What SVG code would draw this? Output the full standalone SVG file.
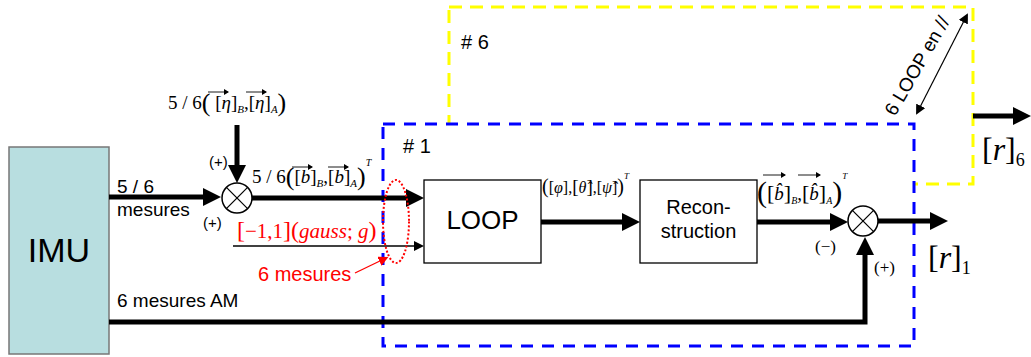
<svg xmlns="http://www.w3.org/2000/svg" width="1031" height="357" viewBox="0 0 1031 357">
<defs>
<style>
.s{font-family:"Liberation Sans",Arial,sans-serif;fill:#000}
.m{font-family:"Liberation Serif","Times New Roman",serif;fill:#000}
.i{font-style:italic}
.red{fill:#ff0000}
.thick{stroke:#000;stroke-width:5;fill:none}
.thin{stroke:#000;stroke-width:1.3;fill:none}
.sum circle{fill:#fff;stroke:#000;stroke-width:1.5}
.sum line{stroke:#000;stroke-width:1.2}
.ov{stroke:#000;stroke-width:0.9;fill:none}
</style>
<marker id="ah" markerUnits="userSpaceOnUse" markerWidth="20" markerHeight="18" refX="10" refY="9" orient="auto"><path d="M0,0 L18,9 L0,18 z" fill="#000"/></marker>
<marker id="ahs" markerUnits="userSpaceOnUse" markerWidth="12" markerHeight="10" refX="4" refY="5" orient="auto"><path d="M0,0 L10,5 L0,10 z" fill="#000"/></marker>
<marker id="ahr" markerUnits="userSpaceOnUse" markerWidth="12" markerHeight="10" refX="4" refY="5" orient="auto"><path d="M0,0 L10,5 L0,10 z" fill="#ff0000"/></marker>
<marker id="ahd" markerUnits="userSpaceOnUse" markerWidth="12" markerHeight="10" refX="8" refY="5" orient="auto-start-reverse"><path d="M0,0 L10,5 L0,10 z" fill="#000"/></marker>
<marker id="ov" markerUnits="userSpaceOnUse" markerWidth="6" markerHeight="6" refX="4" refY="3" orient="auto"><path d="M0,0 L5,3 L0,6 z" fill="#000"/></marker>
</defs>
<rect width="1031" height="357" fill="#fff"/>

<g id="loop6">
<rect x="449" y="7" width="524" height="177" fill="none" stroke="#ffff00" stroke-width="3" stroke-dasharray="13 8"/>
<text class="s" x="461" y="49" font-size="20"># 6</text>
</g>
<g id="loop1">
<rect x="383" y="124" width="531" height="222" fill="#fff" stroke="#0000ff" stroke-width="3" stroke-dasharray="12 9"/>
<text class="s" x="403" y="153" font-size="20"># 1</text>
</g>

<g id="imu">
<rect x="9" y="147" width="100" height="207" fill="#b8dee0" stroke="#777" stroke-width="1.5"/>
<text class="s" x="59" y="262" font-size="34" text-anchor="middle">IMU</text>
</g>

<g id="loop">
<rect x="424" y="180" width="117" height="83" fill="#fff" stroke="#000" stroke-width="1.3"/>
<text class="s" x="482.5" y="229" font-size="26" text-anchor="middle">LOOP</text>
</g>

<g id="recon">
<rect x="640" y="180" width="117" height="83" fill="#fff" stroke="#000" stroke-width="1.3"/>
<text class="s" x="698.5" y="214" font-size="20" text-anchor="middle">Recon-</text>
<text class="s" x="698.5" y="238" font-size="20" text-anchor="middle">struction</text>
</g>

<g id="sum1" class="sum">
<circle cx="237" cy="198" r="15"/>
<line x1="226.4" y1="187.4" x2="247.6" y2="208.6"/>
<line x1="226.4" y1="208.6" x2="247.6" y2="187.4"/>
</g>
<g id="sum2" class="sum">
<circle cx="863" cy="221" r="15"/>
<line x1="852.4" y1="210.4" x2="873.6" y2="231.6"/>
<line x1="852.4" y1="231.6" x2="873.6" y2="210.4"/>
</g>

<g id="connectors">
<line class="thick" x1="109" y1="197" x2="213" y2="197" marker-end="url(#ah)"/>
<line class="thick" x1="237" y1="125" x2="237" y2="175" marker-end="url(#ah)"/>
<line class="thick" x1="252" y1="198" x2="416" y2="198" marker-end="url(#ah)"/>
<line class="thin" x1="233" y1="246" x2="418" y2="246" marker-end="url(#ahs)"/>
<line class="thick" x1="541" y1="222" x2="632" y2="222" marker-end="url(#ah)"/>
<line class="thick" x1="757" y1="222" x2="840" y2="222" marker-end="url(#ah)"/>
<line class="thick" x1="878" y1="221" x2="940" y2="221" marker-end="url(#ah)"/>
<polyline class="thick" points="109,322 865,322 865,245" marker-end="url(#ah)"/>
<line class="thick" x1="973" y1="116" x2="1023" y2="116" marker-end="url(#ah)"/>
<line x1="355" y1="273" x2="383" y2="259.5" stroke="#ff0000" stroke-width="1.3" marker-end="url(#ahr)"/>
<line x1="917" y1="113" x2="967" y2="15" stroke="#000" stroke-width="1.2" marker-start="url(#ahd)" marker-end="url(#ahd)"/>
</g>

<g id="ellipse">
<ellipse cx="396" cy="221.5" rx="13" ry="41.5" fill="none" stroke="#ff0000" stroke-width="2" stroke-dasharray="2 2"/>
</g>

<g id="labels">
<text class="s" x="117" y="193" font-size="19">5 / 6</text>
<text class="s" x="117" y="216" font-size="19">mesures</text>
<text class="s" x="117" y="307" font-size="19">6 mesures AM</text>
<text class="s" x="209" y="167" font-size="15">(+)</text>
<text class="s" x="203" y="228" font-size="15">(+)</text>
<text class="m" x="815" y="252" font-size="17">(−)</text>
<text class="m" x="874" y="273" font-size="17">(+)</text>
<text class="s red" x="258" y="281" font-size="20">6 mesures</text>
<text class="s" x="895" y="117" font-size="19" transform="rotate(-60 895 117)">6 LOOP en //</text>

<text class="m" x="168" y="109" font-size="19">5 / 6<tspan font-size="26" dy="2">(</tspan><tspan dy="-2"> [</tspan><tspan class="i">η</tspan>]<tspan class="i" font-size="11" dy="4">B</tspan><tspan dy="-4">,[</tspan><tspan class="i">η</tspan>]<tspan class="i" font-size="11" dy="4">A</tspan><tspan font-size="26" dy="-2">)</tspan></text>
<line class="ov" x1="208" y1="92" x2="228" y2="92" marker-end="url(#ov)"/>
<line class="ov" x1="246" y1="92" x2="266" y2="92" marker-end="url(#ov)"/>

<text class="m" x="252" y="183" font-size="19">5 / 6<tspan font-size="26" dy="2">(</tspan><tspan dy="-2">[</tspan><tspan class="i">b</tspan>]<tspan class="i" font-size="11" dy="4">B</tspan><tspan dy="-4">,[</tspan><tspan class="i">b</tspan>]<tspan class="i" font-size="11" dy="4">A</tspan><tspan font-size="26" dy="-2">)</tspan><tspan class="i" font-size="10" dy="-19">T</tspan></text>
<line class="ov" x1="292" y1="167" x2="312" y2="167" marker-end="url(#ov)"/>
<line class="ov" x1="328" y1="167" x2="348" y2="167" marker-end="url(#ov)"/>

<text class="m red" x="237" y="238" font-size="21"><tspan font-size="24">[</tspan>−1,1<tspan font-size="24">]</tspan><tspan font-size="24">(</tspan><tspan class="i">gauss</tspan>; <tspan class="i">g</tspan><tspan font-size="24">)</tspan></text>

<text class="m" x="542" y="193" font-size="16"><tspan font-size="20">(</tspan>[<tspan class="i">φ</tspan>],<tspan font-size="19">[</tspan><tspan class="i">θ̂</tspan><tspan font-size="19">]</tspan>,[<tspan class="i">ψ̂</tspan>]<tspan font-size="20">)</tspan><tspan class="i" font-size="9" dy="-14">T</tspan></text>

<text class="m" x="757" y="200" font-size="19"><tspan font-size="30" dy="2">(</tspan><tspan dy="-2" font-size="22">[</tspan><tspan class="i">b̂</tspan><tspan font-size="22">]</tspan><tspan class="i" font-size="10" dy="4">B</tspan><tspan dy="-4">,</tspan><tspan font-size="22">[</tspan><tspan class="i">b̂</tspan><tspan font-size="22">]</tspan><tspan class="i" font-size="10" dy="4">A</tspan><tspan font-size="30" dy="-2">)</tspan><tspan class="i" font-size="9" dy="-23">T</tspan></text>
<line class="ov" x1="763" y1="175" x2="785" y2="175" marker-end="url(#ov)"/>
<line class="ov" x1="798" y1="175" x2="820" y2="175" marker-end="url(#ov)"/>
</g>

<g id="outputs">
<text class="m" x="928" y="268" font-size="32">[<tspan class="i">r</tspan>]<tspan font-size="18" dy="6">1</tspan></text>
<text class="m" x="982" y="160" font-size="32">[<tspan class="i">r</tspan>]<tspan font-size="18" dy="6">6</tspan></text>
</g>
</svg>
